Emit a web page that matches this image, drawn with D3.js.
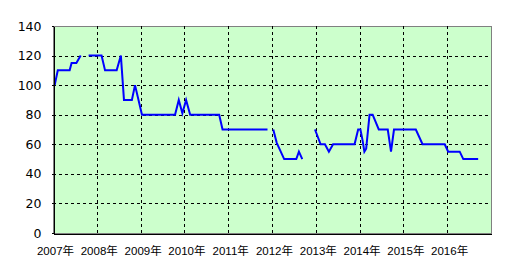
<!DOCTYPE html>
<meta charset="utf-8">
<style>
body { margin: 0; background: #fff; }
svg { display: block; }
.grid line { stroke: #000; stroke-dasharray: 3,3; shape-rendering: crispEdges; }
.axis text { font-family: "Liberation Sans", Arial, "Noto Sans CJK JP", sans-serif; fill: #000; }
.axis path, .axis line { stroke: #000; shape-rendering: crispEdges; }
</style>
<body>
<script src="https://cdn.jsdelivr.net/npm/d3@7"></script>
<script>

// data (null = gap in the line)
var dates = [
  "2007-01-15", "2007-02-10", "2007-05-20", "2007-06-05", "2007-07-15", "2007-08-20", "2007-09-20",
  "2007-10-25", "2008-02-10", "2008-03-10", "2008-06-15", "2008-07-20", "2008-08-15", "2008-10-20",
  "2008-11-15", "2009-01-12", "2009-10-15", "2009-11-15", "2009-12-15", "2010-01-15", "2010-02-18",
  "2010-10-18", "2010-11-15", "2011-11-25", "2011-12-20",
  "2012-01-12", "2012-02-10", "2012-04-12", "2012-07-22", "2012-08-13", "2012-09-10", "2012-11-01",
  "2012-12-25", "2013-02-10", "2013-03-18", "2013-04-20", "2013-05-25", "2013-11-20", "2013-12-20",
  "2014-01-08", "2014-01-25", "2014-02-10", "2014-02-25", "2014-03-25", "2014-04-20", "2014-06-10",
  "2014-08-24", "2014-09-20", "2014-10-15", "2015-04-15", "2015-06-10", "2015-12-12", "2016-01-10",
  "2016-04-15", "2016-05-15", "2016-09-16"
];
var values = [
  100, 110, 110, 115, 115, 120, null,
  120, 120, 110, 110, 120, 90, 90,
  100, 80, 80, 90, 81, 90, 80,
  80, 70, 70, null,
  70, 61, 50, 50, 55, 50, null,
  70, 60, 60, 55, 60, 60, 70,
  70, 63, 55, 57, 80, 80, 70,
  70, 55, 70, 70, 60, 60, 55,
  55, 50, 50
];
var years = [2007, 2008, 2009, 2010, 2011, 2012, 2013, 2014, 2015, 2016];
var yTicks = [0, 20, 40, 60, 80, 100, 120, 140];

// plot box
var plotLeft = 53, plotRight = 491, plotTop = 26, plotBottom = 233;

var parse = d3.timeParse("%Y-%m-%d");
var data = dates.map(function(d, i) { return {date: parse(d), value: values[i]}; });

var x = d3.scaleTime()
    .domain([new Date(2007, 0, 1), new Date(2017, 0, 1)])
    .range([plotLeft, plotRight]);
var y = d3.scaleLinear()
    .domain([0, 140])
    .range([plotBottom, plotTop]);

var svg = d3.select("body").append("svg")
    .attr("width", 506)
    .attr("height", 275);

// green plot area
svg.append("rect")
    .attr("x", plotLeft + 0.5).attr("y", plotTop + 0.5)
    .attr("width", plotRight - plotLeft).attr("height", plotBottom - plotTop)
    .attr("fill", "#ccffcc")
    .attr("stroke", "#808080")
    .attr("shape-rendering", "crispEdges");

// dashed grid
svg.append("g").attr("class", "grid")
  .selectAll("line")
    .data(yTicks.slice(1, -1))
  .enter().append("line")
    .attr("x1", plotLeft).attr("x2", plotRight)
    .attr("y1", function(d) { return Math.round(y(d)) + 0.5; })
    .attr("y2", function(d) { return Math.round(y(d)) + 0.5; });

svg.append("g").attr("class", "grid")
  .selectAll("line")
    .data(years.slice(1))
  .enter().append("line")
    .attr("x1", function(d) { return Math.round(x(new Date(d, 0, 1))) + 0.5; })
    .attr("x2", function(d) { return Math.round(x(new Date(d, 0, 1))) + 0.5; })
    .attr("y1", plotTop).attr("y2", plotBottom);

// the line
var line = d3.line()
    .defined(function(d) { return d.value != null; })
    .x(function(d) { return x(d.date); })
    .y(function(d) { return y(d.value); });

svg.append("path")
    .datum(data)
    .attr("fill", "none")
    .attr("stroke", "#0000ff")
    .attr("stroke-width", 2)
    .attr("d", line);

// axes
svg.append("g")
    .attr("class", "axis")
    .attr("transform", "translate(0," + (plotBottom + 0.5) + ")")
    .call(d3.axisBottom(x)
      .tickValues(years.map(function(d) { return new Date(d, 0, 1); }))
      .tickSize(0)
      .tickPadding(13)
      .tickFormat(function(d) { return d.getFullYear() + "年"; }))
    .call(function(g) { g.selectAll("text").attr("font-size", 11.5).attr("dx", 2); });

svg.append("g")
    .attr("class", "axis")
    .attr("transform", "translate(" + (plotLeft + 0.5) + ",0)")
    .call(d3.axisLeft(y)
      .tickValues(yTicks)
      .tickSize(2)
      .tickSizeOuter(0)
      .tickPadding(10))
    .call(function(g) {
      g.selectAll("text").style("font-family", "'DejaVu Sans', sans-serif").attr("font-size", 12.5);
    });

</script>
</body>
